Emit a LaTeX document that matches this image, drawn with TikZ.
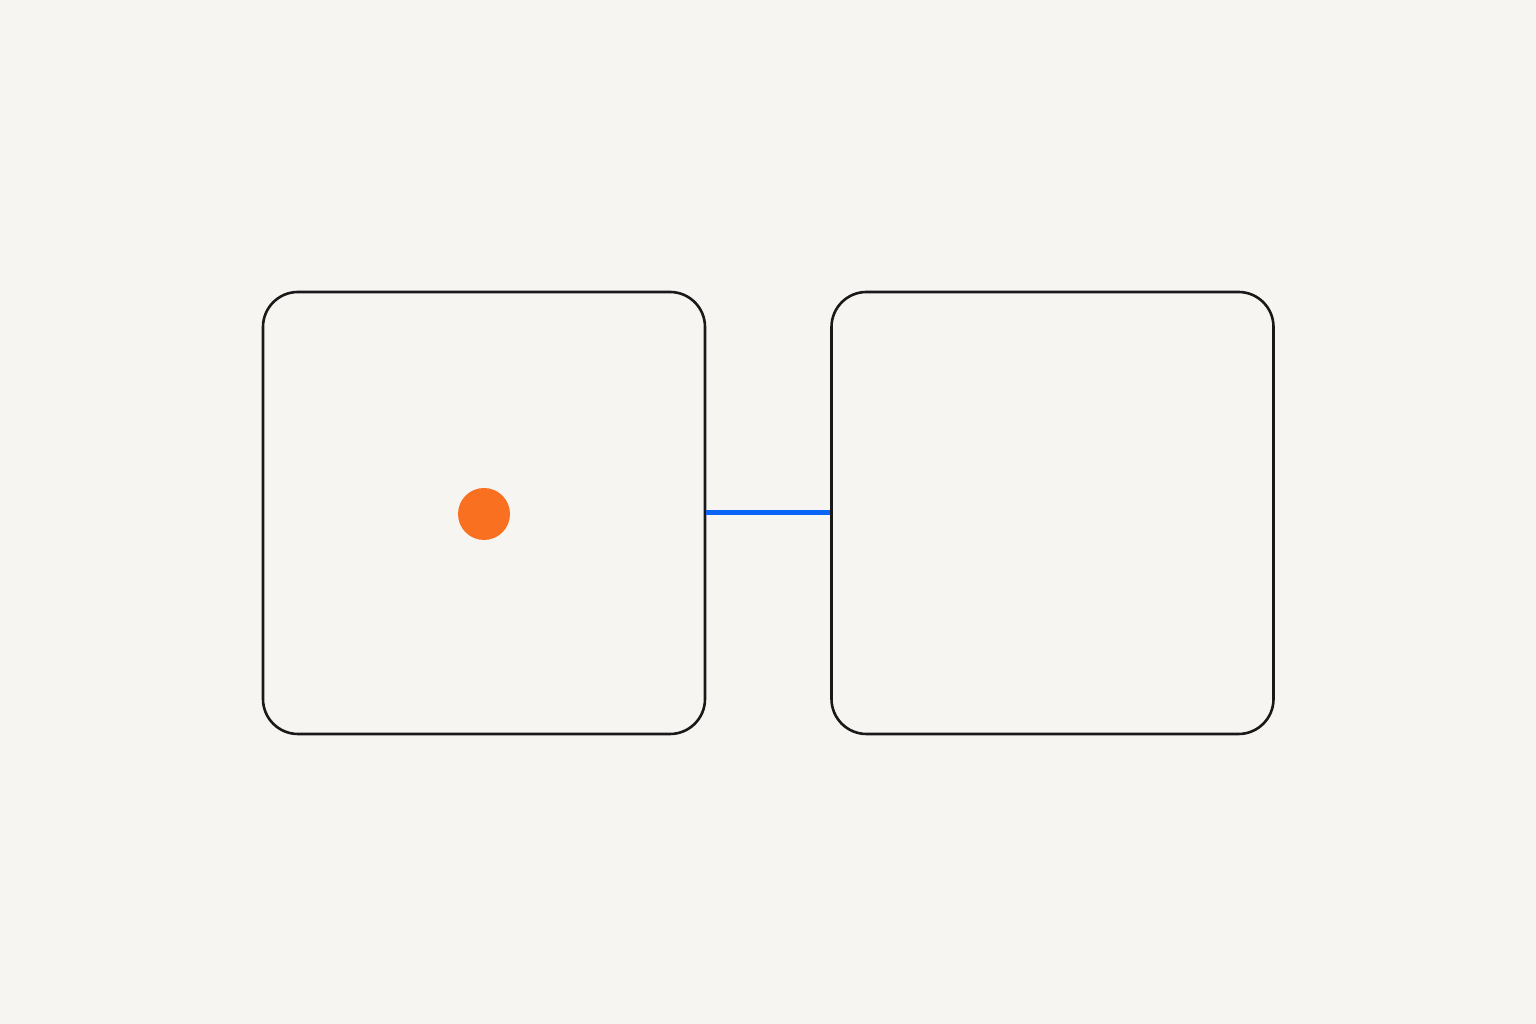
\documentclass[tikz,border=0pt]{standalone}
\definecolor{bgc}{HTML}{F7F5F2}
\definecolor{linkblue}{HTML}{0A64F5}
\definecolor{dotorange}{HTML}{F97020}
\begin{document}
\begin{tikzpicture}[x=1pt,y=1pt,
  panel/.style={draw=black!90, line width=2.6pt, rounded corners=35pt, minimum width=442pt, minimum height=442pt, inner sep=0pt},
  dot/.style={circle, fill=dotorange, minimum size=52pt, inner sep=0pt},
  link/.style={draw=linkblue, line width=5pt}]
\fill[bgc] (0,0) rectangle (1536,1024);
\useasboundingbox (0,0) rectangle (1536,1024);
\node[panel] (a) at (484,511) {};
\node[panel] (b) at (1052.5,511) {};
\node[dot] (d) at (484,510) {};
\draw[link] (a.east) -- (b.west);
\end{tikzpicture}
\end{document}
